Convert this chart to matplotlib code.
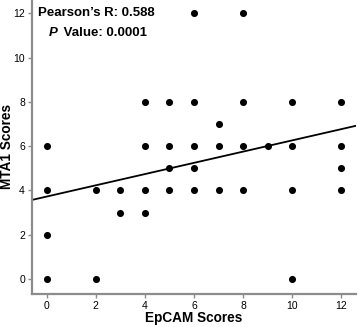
import matplotlib
matplotlib.use("Agg")
import matplotlib.pyplot as plt
import numpy as np

plt.rcParams['font.family'] = ['Liberation Sans', 'DejaVu Sans']

# Data
epcam = [0, 0, 0, 0,
         2, 2,
         3, 3,
         4, 4, 4, 4,
         5, 5, 5, 5,
         6, 6, 6, 6, 6,
         7, 7, 7,
         8, 8, 8, 8,
         9,
         10, 10, 10, 10,
         12, 12, 12, 12]
mta1 = [0, 2, 4, 6,
        0, 4,
        3, 4,
        3, 4, 6, 8,
        4, 5, 6, 8,
        4, 5, 6, 8, 12,
        4, 6, 7,
        4, 6, 8, 12,
        6,
        0, 4, 6, 8,
        4, 5, 6, 8]
fit_slope = 0.254
fit_intercept = 3.72
xticks = [0, 2, 4, 6, 8, 10, 12]
yticks = [0, 2, 4, 6, 8, 10, 12]
r_text = "Pearson\u2019s R: 0.588"
p_value = "0.0001"

fig = plt.figure(figsize=(3.58, 3.27), dpi=100)
ax = fig.add_axes([0.089, 0.101, 0.906, 0.899])

ax.scatter(epcam, mta1, s=26, color='black', zorder=3, linewidths=0)
xl = np.array([-0.6, 12.6])
ax.plot(xl, fit_intercept + fit_slope * xl, color='black', lw=1.3, zorder=2)

ax.set_xlim(-0.6, 12.6)
ax.set_ylim(-0.68, 12.6)
ax.set_xticks(xticks)
ax.set_yticks(yticks)
for s in ['top', 'right']:
    ax.spines[s].set_visible(False)
for s in ['left', 'bottom']:
    ax.spines[s].set_color('#8c8c8c')
    ax.spines[s].set_linewidth(1.6)
ax.tick_params(axis='both', colors='#8c8c8c', length=3, width=1, labelsize=7.5,
               labelcolor='black', pad=2)

ax.set_xlabel("EpCAM Scores", fontsize=9.8, fontweight='bold', va='center')
ax.set_ylabel("MTA1 Scores", fontsize=9.8, fontweight='bold', va='center')
ax.xaxis.set_label_coords(0.5 + (194 - 194) / 324, -24 / 294)
ax.yaxis.set_label_coords(-25 / 324, 0.5)

fig.text(38 / 358, 1 - 13 / 327, r_text, fontsize=9.5, fontweight='bold',
         ha='left', va='center')
tp = fig.text(49 / 358, 1 - 33 / 327, "P", fontsize=9.5, fontweight='bold',
              style='italic', ha='left', va='center')
fig.canvas.draw()
bb = tp.get_window_extent()
fig.text(bb.x1 / fig.bbox.width + 2 / 358, 1 - 33 / 327, " Value: " + p_value,
         fontsize=9.5, fontweight='bold', ha='left', va='center')

fig.savefig("out.png", dpi=100)
